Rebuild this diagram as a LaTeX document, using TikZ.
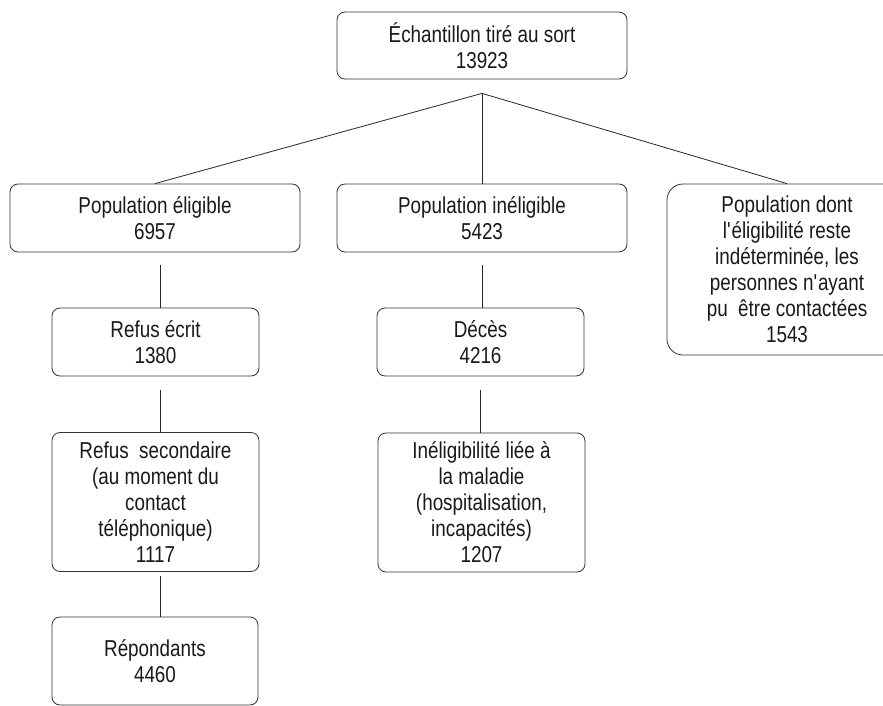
\documentclass[tikz,border=0pt]{standalone}
\usepackage{fontspec}
\setmainfont{Liberation Sans}[FakeStretch=0.82]
\usetikzlibrary{positioning,calc}

\begin{document}
\begin{tikzpicture}[x=1pt,y=-1pt,
    box/.style={draw=black!80,line width=0.8pt,rounded corners=8pt,inner sep=0pt,
        align=center,font=\fontsize{23pt}{26pt}\selectfont,text=black!90},
    wide/.style={box,minimum width=290pt,minimum height=68pt},
    small/.style={box,minimum width=207pt,minimum height=68pt},
    tall/.style={box,minimum width=207pt,minimum height=139pt},
    link/.style={draw=black!85,line width=0.8pt}]
                \useasboundingbox (0,0) rectangle (883,706);
                % draw nodes
                \node[wide,minimum height=67pt] (tirage) at (482,45.5) {Échantillon tiré au sort\\13923};
                \node[wide] (eligible) at (155,218) {Population éligible\\6957};
                \node[wide] (ineligible) at (482,218) {Population inéligible\hspace{0.9em}\\5423\hspace{0.3em}};
                \node[box,rounded corners=16pt,minimum width=240pt,minimum height=171pt] (indetermine) at (787,269.5)
                    {Population dont\\l\textquotesingle éligibilité reste\hspace{0.3em}\\indéterminée, les\\personnes n\textquotesingle ayant\\pu~~être contactées\\1543};
                \node[small] (refusecrit) at (155.5,342) {Refus écrit\\1380};
                \node[small] (deces) at (480.5,342) {Décès\\4216};
                \node[tall] (refussec) at (155.5,502) {Refus~~secondaire\\(au moment du\\contact\\téléphonique)\\1117};
                \node[tall] (maladie) at (481.5,502.5) {Inéligibilité liée à\\la maladie\\(hospitalisation,\\incapacités)\hspace{0.6em}\\1207};
                \node[box,minimum width=206pt,minimum height=88pt] (repondants) at (155,661) {Répondants\\4460};
                % draw connectors
                \coordinate (split) at ([yshift=-14pt]tirage.south);
                \draw[link] (split) -- (eligible.north);
                \draw[link] (split) -- (ineligible.north);
                \draw[link] (split) -- (indetermine.north);
                \draw[link,shorten <=13pt] ([xshift=5pt]eligible.south) -- ([xshift=5pt]eligible.south |- refusecrit.north);
                \draw[link,shorten <=14pt] (refusecrit.south) ++(4.5,0) coordinate (r1) (r1) -- (r1 |- refussec.north);
                \draw[link,shorten <=4pt] (refussec.south) ++(4.5,0) coordinate (r2) (r2) -- (r2 |- repondants.north);
                \draw[link,shorten <=13pt] (ineligible.south) -- (ineligible.south |- deces.north);
                \draw[link,shorten <=14pt] (deces.south) -- (deces.south |- maladie.north);
\end{tikzpicture}
\end{document}
